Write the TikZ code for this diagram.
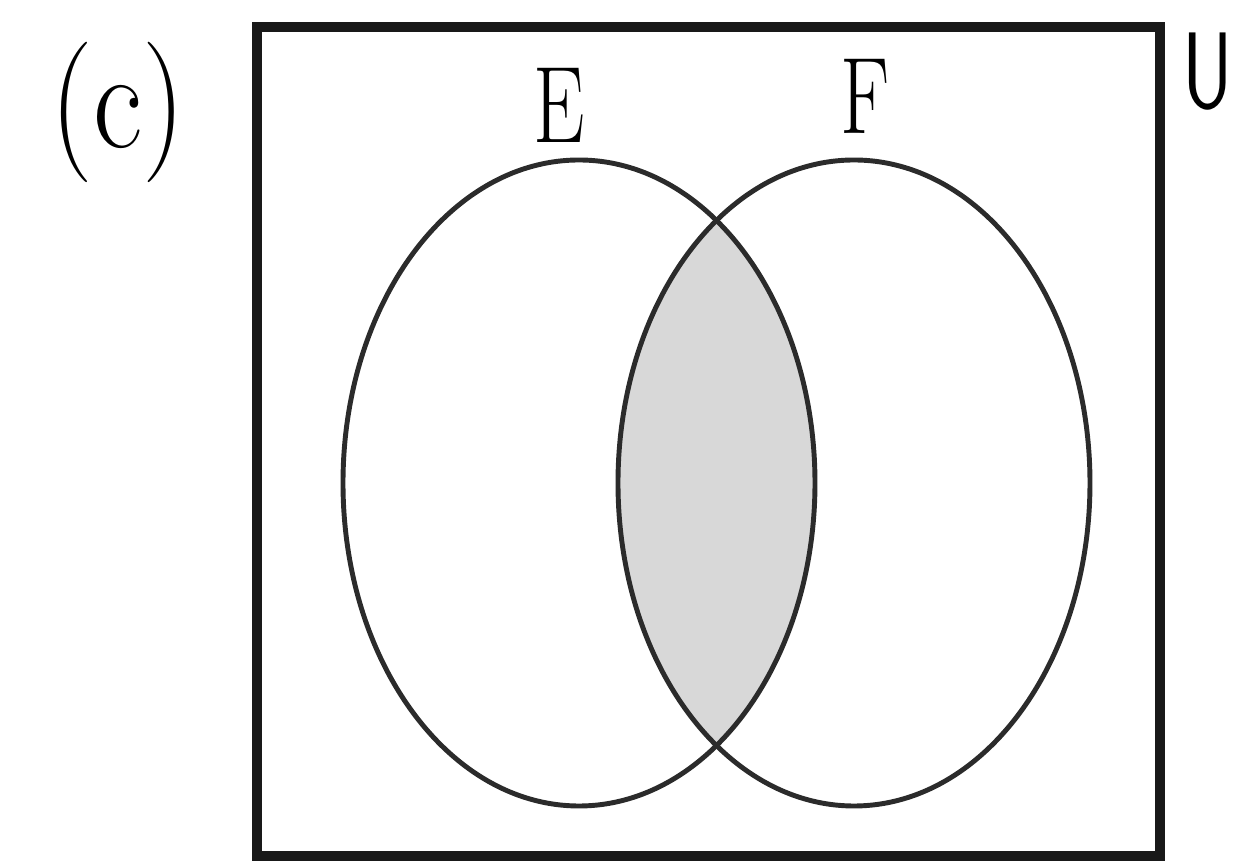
\documentclass[tikz,border=0pt]{standalone}
\usepackage{tikz}
\usetikzlibrary{positioning}
\definecolor{trait}{HTML}{2B2B2B}
\definecolor{grisinter}{HTML}{D8D8D8}

\begin{document}
\begin{tikzpicture}[
  x=1cm, y=1cm,
  cadre/.style={draw=black!90, line width=2.8pt},
  ens/.style={draw=trait, line width=1.4pt},
  lettre/.style={font=\fontsize{31}{36}\selectfont, inner sep=0pt, xscale=0.75, transform shape}
]
\useasboundingbox (0,0) rectangle (12.34,8.63);
% univers
\draw[cadre] (2.57,0.07) rectangle (11.60,8.36);
\coordinate (cE) at (5.79,3.80);
\coordinate (cF) at (8.54,3.80);
% intersection
\begin{scope}
  \clip (cE) ellipse [x radius=2.36, y radius=3.23];
  \fill[grisinter] (cF) ellipse [x radius=2.36, y radius=3.23];
\end{scope}
\draw[ens] (cE) ellipse [x radius=2.36, y radius=3.23];
\draw[ens] (cF) ellipse [x radius=2.36, y radius=3.23];
% etiquettes
\node[lettre] (labE) at (5.59,7.58) {E};
\node[lettre] (labF) at (8.65,7.67) {F};
\node[font=\fontsize{31}{36}\selectfont\sffamily, inner sep=0pt, anchor=west] (labU) at (11.82,7.91) {\scalebox{0.72}[1]{U}};
\node[font=\fontsize{40}{48}\selectfont, inner sep=0pt, xscale=0.86, transform shape] (labc) at (1.18,7.51) {(c)};
\end{tikzpicture}
\end{document}
